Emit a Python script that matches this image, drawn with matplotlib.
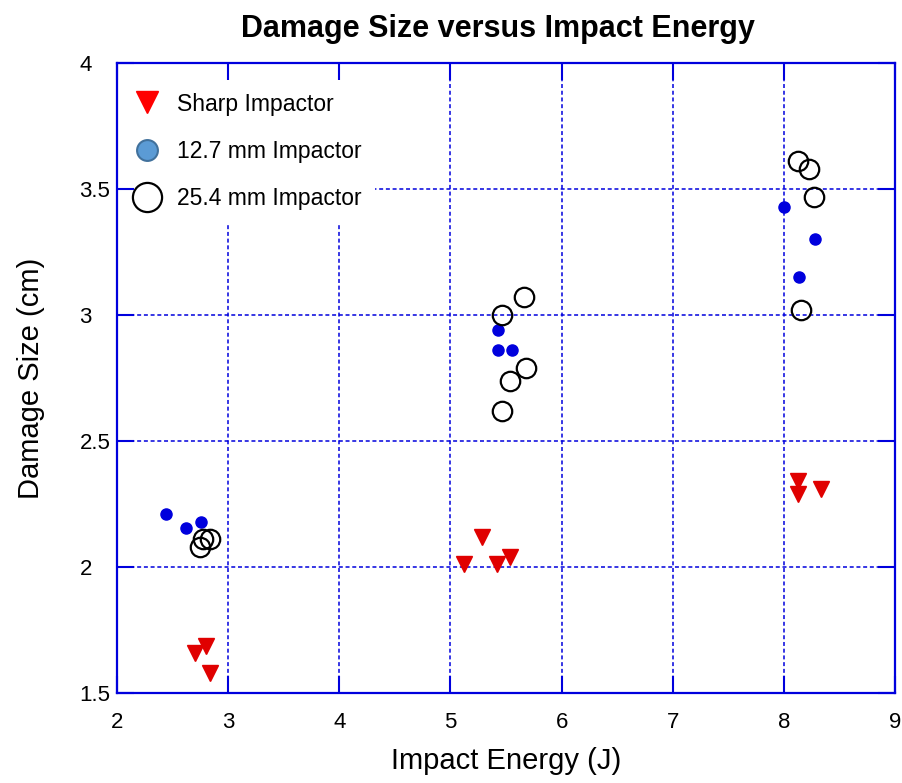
import matplotlib
matplotlib.use("Agg")
import matplotlib.pyplot as plt
from matplotlib.lines import Line2D

plt.rcParams['font.family'] = ['Liberation Sans', 'DejaVu Sans']

# Sharp impactor
sharp_x = [2.70, 2.80, 2.84, 5.12, 5.28, 5.42, 5.54, 8.13, 8.13, 8.33]
sharp_y = [1.66, 1.685, 1.58, 2.01, 2.12, 2.01, 2.04, 2.34, 2.29, 2.31]
# 12.7 mm impactor
small_x = [2.44, 2.62, 2.76, 5.43, 5.43, 5.55, 8.00, 8.28, 8.14]
small_y = [2.21, 2.155, 2.18, 2.94, 2.86, 2.86, 3.43, 3.30, 3.15]
# 25.4 mm impactor
large_x = [2.75, 2.77, 2.84, 5.66, 5.46, 5.68, 5.54, 5.46, 8.13, 8.23, 8.27, 8.15]
large_y = [2.08, 2.11, 2.11, 3.07, 3.00, 2.79, 2.74, 2.62, 3.61, 3.58, 3.47, 3.02]

labels = ["Sharp Impactor", "12.7 mm Impactor", "25.4 mm Impactor"]
xticks = [2, 3, 4, 5, 6, 7, 8, 9]
yticks = [1.5, 2, 2.5, 3, 3.5, 4]

BLUE = "#0000DD"
GRID_STYLE = dict(color=BLUE, linestyle=(0, (2.6, 1.8)), linewidth=1.1, zorder=0.5)

fig = plt.figure(figsize=(9.03, 7.83), dpi=100)
ax = fig.add_axes([117 / 903, 1 - 693 / 783, 778 / 903, 630 / 783])

# grid drawn below the legend, ticks/spines drawn above it
for xv in xticks:
    ax.axvline(xv, **GRID_STYLE)
for yv in yticks:
    ax.axhline(yv, **GRID_STYLE)

ax.plot(sharp_x, sharp_y, linestyle='none', marker='v', ms=11, color='#E00000', zorder=3)
ax.plot(small_x, small_y, linestyle='none', marker='o', ms=8, color=BLUE, zorder=3)
ax.plot(large_x, large_y, linestyle='none', marker='o', ms=14, mfc='none', mec='black', mew=1.6, zorder=4)

ax.set_xlim(2, 9)
ax.set_ylim(1.5, 4)
ax.set_xticks(xticks)
ax.set_yticks(yticks)
ax.set_xticklabels([str(v) for v in xticks])
ax.set_yticklabels([f"{v:g}" for v in yticks], ha='left')

for s in ax.spines.values():
    s.set_color(BLUE)
    s.set_linewidth(1.6)
ax.tick_params(direction='in', length=12, width=1.5, color=BLUE, labelsize=16,
               top=True, right=True)
ax.tick_params(axis='x', pad=14)
ax.tick_params(axis='y', pad=27)

ax.set_xlabel("Impact Energy (J)", fontsize=21)
ax.set_ylabel("Damage Size (cm)", fontsize=21)
ax.xaxis.set_label_coords(0.5, -0.085)
ax.yaxis.set_label_coords(-0.092, 0.5)
ax.set_title("Damage Size versus Impact Energy", fontsize=22, fontweight='bold',
             pad=19, x=0.49)

handles = [
    Line2D([], [], linestyle='none', marker='v', ms=16, color='#FF0000'),
    Line2D([], [], linestyle='none', marker='o', ms=15, mfc='#5B9BD5', mec='#41719C', mew=1.5),
    Line2D([], [], linestyle='none', marker='o', ms=21, mfc='none', mec='black', mew=1.6),
]
leg = ax.legend(handles, labels, loc='upper left', bbox_to_anchor=(-0.003, 0.975),
                fontsize=16.5, frameon=True,
                facecolor='white', edgecolor='none', framealpha=1, fancybox=False,
                labelspacing=1.05, handletextpad=0.5, borderaxespad=0.0,
                borderpad=0.6, handlelength=1.6)
leg.set_zorder(1)

fig.savefig("out.png", dpi=100)
